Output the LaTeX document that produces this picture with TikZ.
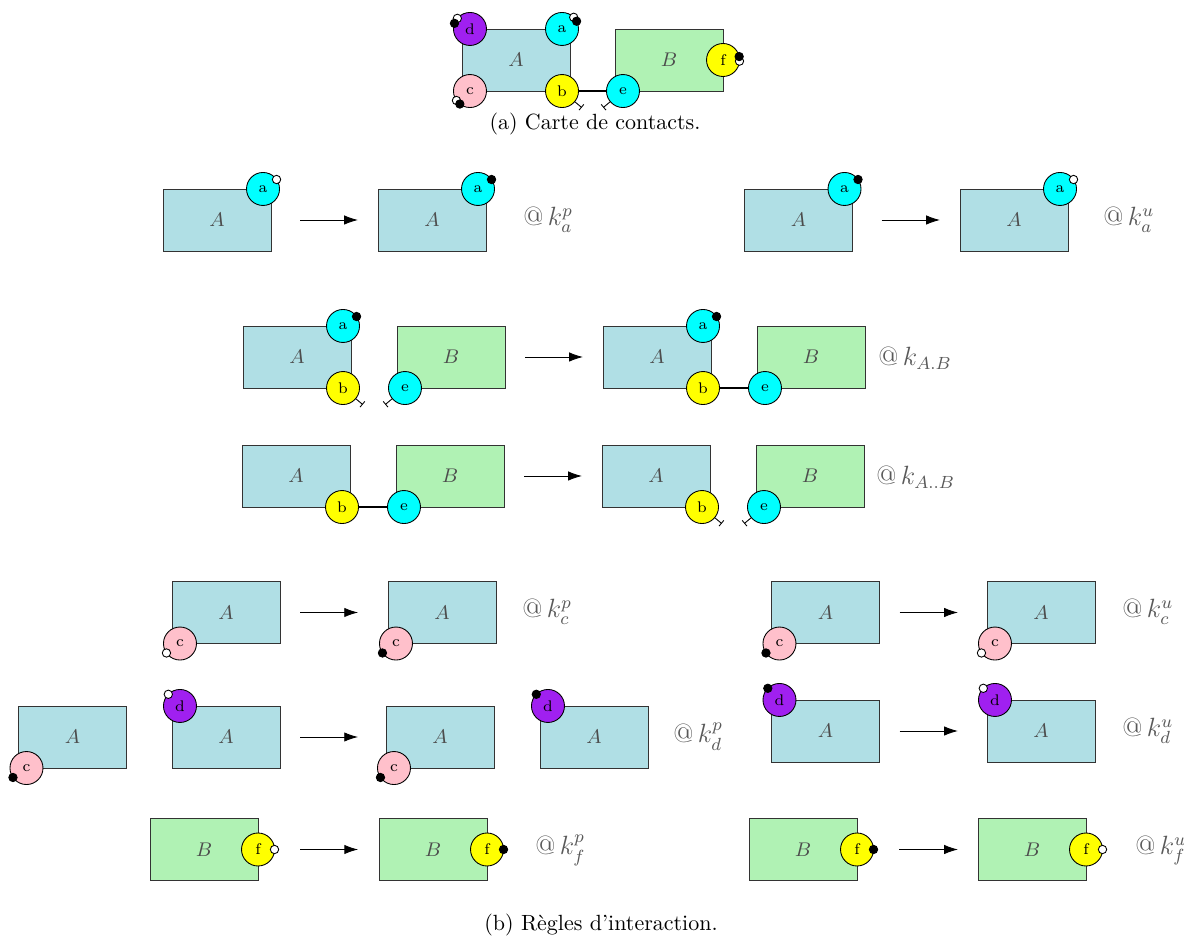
\documentclass[tikz,border=0pt]{standalone}
\usepackage{fontspec}
\usepackage{amsmath}
\usepackage{tikz}
\usetikzlibrary{calc,arrows.meta}
\definecolor{acol}{HTML}{B0DFE5}
\definecolor{bcol}{HTML}{B0F2B4}
\definecolor{cyanc}{HTML}{00FFFF}
\definecolor{yelc}{HTML}{FFFF00}
\definecolor{pinkc}{HTML}{FFC0CB}
\definecolor{purc}{HTML}{A020F0}
\tikzset{
  ar/.style={-{Latex[length=2.2mm,width=1.5mm]}},
  boxA/.style={draw=black!80,fill=acol,minimum width=49.1pt,minimum height=28.2pt,inner sep=0pt,outer sep=0pt,font=\small,text=black!70},
  boxB/.style={boxA,fill=bcol},
  st/.style={circle,draw,minimum size=15pt,inner sep=0pt,outer sep=0pt,font=\scriptsize},
  sa/.style={st,fill=cyanc}, sb/.style={st,fill=yelc}, sc/.style={st,fill=pinkc},
  sd/.style={st,fill=purc}, se/.style={st,fill=cyanc}, sf/.style={st,fill=yelc},
  fr/.style={circle,draw,fill=white,minimum size=3.8pt,inner sep=0pt,outer sep=0pt},
  bd/.style={fr,fill=black},
  bond/.style={thick},
  stub/.style={-{Bar[width=3.4pt]}},
  lbl/.style={font=\large,text=black!65,anchor=base west,inner sep=0pt}
}
\begin{document}
\begin{tikzpicture}[x=0.4545pt,y=-0.4545pt]
\useasboundingbox (0,0) rectangle (1184,944);
% contact map
\node[boxA] (A0) at (516,60) {$A$};
\node[boxB] (B0) at (669,60) {$B$};
\node[sd] (d0) at ($(A0.north west)+(8,0)$) {d};
\node[sa] (a0) at ($(A0.north east)+(-8,0)$) {a};
\node[sc] (c0) at ($(A0.south west)+(8,0)$) {c};
\node[sb] (b0) at ($(A0.south east)+(-8,0)$) {b};
\node[se] (e0) at ($(B0.south west)+(8,0)$) {e};
\node[sf] (f0) at (B0.east) {f};
\node[fr] (a0u) at (a0.45) {}; \node[bd] (a0p) at (a0.28) {};
\node[fr] (d0u) at (d0.140) {}; \node[bd] (d0p) at (d0.160) {};
\node[fr] (c0u) at (c0.215) {}; \node[bd] (c0p) at (c0.232) {};
\node[fr] (f0u) at (f0.-4) {}; \node[bd] (f0p) at (f0.12) {};
\draw[bond] (b0) -- (e0);
\draw[stub] (b0.-40) -- ++(-40:4.2pt);
\draw[stub] (e0.220) -- ++(220:4.2pt);
\node (capa) at (595,124) {(a)~Carte de contacts.};

% k_a^p , k_a^u
\node[boxA] (A1) at (217,220) {$A$};
\node[sa] (a1) at ($(A1.north east)+(-8,0)$) {a};
\node[fr] (a1s) at (a1.35) {};
\node[boxA] (A2) at (432,220) {$A$};
\node[sa] (a2) at ($(A2.north east)+(-8,0)$) {a};
\node[bd] (a2s) at (a2.35) {};
\draw[ar] ([xshift=13.2pt]A1.east) -- ([xshift=-9.1pt]A2.west);
\node[lbl] (k1) at (523,226) {@\,$k_a^p$};
\node[boxA] (A7) at (798.5,220) {$A$};
\node[sa] (a7) at ($(A7.north east)+(-8,0)$) {a};
\node[bd] (a7s) at (a7.35) {};
\node[boxA] (A8) at (1014,220) {$A$};
\node[sa] (a8) at ($(A8.north east)+(-8,0)$) {a};
\node[fr] (a8s) at (a8.35) {};
\draw[ar] ([xshift=13.2pt]A7.east) -- ([xshift=-9.1pt]A8.west);
\node[lbl] (k7) at (1103,226) {@\,$k_a^u$};

% k_{A.B}
\node[boxA] (A3) at (297,357) {$A$};
\node[boxB] (B3) at (451,357) {$B$};
\node[sa] (a3) at ($(A3.north east)+(-8,0)$) {a};
\node[sb] (b3) at ($(A3.south east)+(-8,0)$) {b};
\node[se] (e3) at ($(B3.south west)+(8,0)$) {e};
\node[bd] (a3s) at (a3.35) {};
\draw[stub] (b3.-40) -- ++(-40:4.2pt);
\draw[stub] (e3.220) -- ++(220:4.2pt);
\node[boxA] (A4) at (657,357) {$A$};
\node[boxB] (B4) at (811,357) {$B$};
\node[sa] (a4) at ($(A4.north east)+(-8,0)$) {a};
\node[sb] (b4) at ($(A4.south east)+(-8,0)$) {b};
\node[se] (e4) at ($(B4.south west)+(8,0)$) {e};
\node[bd] (a4s) at (a4.35) {};
\draw[bond] (b4) -- (e4);
\draw[ar] ([xshift=9.1pt]B3.east) -- ([xshift=-9.1pt]A4.west);
\node[lbl] (k3) at (878,366) {@\,$k_{A.B}$};

% k_{A..B}
\node[boxA] (A5) at (296,476) {$A$};
\node[boxB] (B5) at (450,476) {$B$};
\node[sb] (b5) at ($(A5.south east)+(-8,0)$) {b};
\node[se] (e5) at ($(B5.south west)+(8,0)$) {e};
\draw[bond] (b5) -- (e5);
\node[boxA] (A6) at (656,476) {$A$};
\node[boxB] (B6) at (810,476) {$B$};
\node[sb] (b6) at ($(A6.south east)+(-8,0)$) {b};
\node[se] (e6) at ($(B6.south west)+(8,0)$) {e};
\draw[stub] (b6.-40) -- ++(-40:4.2pt);
\draw[stub] (e6.220) -- ++(220:4.2pt);
\draw[ar] ([xshift=9.1pt]B5.east) -- ([xshift=-9.1pt]A6.west);
\node[lbl] (k5) at (876,485) {@\,$k_{A..B}$};

% k_c^p , k_c^u
\node[boxA] (A9) at (226,612.5) {$A$};
\node[sc] (c9) at ($(A9.south west)+(8,0)$) {c};
\node[fr] (c9s) at (c9.215) {};
\node[boxA] (A10) at (442,612.5) {$A$};
\node[sc] (c10) at ($(A10.south west)+(8,0)$) {c};
\node[bd] (c10s) at (c10.215) {};
\draw[ar] ([xshift=9.1pt]A9.east) -- ([xshift=-13.6pt]A10.west);
\node[lbl] (k9) at (522,618) {@\,$k_c^p$};
\node[boxA] (A11) at (825.5,612.5) {$A$};
\node[sc] (c11) at ($(A11.south west)+(8,0)$) {c};
\node[bd] (c11s) at (c11.215) {};
\node[boxA] (A12) at (1041,612.5) {$A$};
\node[sc] (c12) at ($(A12.south west)+(8,0)$) {c};
\node[fr] (c12s) at (c12.215) {};
\draw[ar] ([xshift=9.1pt]A11.east) -- ([xshift=-13.2pt]A12.west);
\node[lbl] (k11) at (1122,618) {@\,$k_c^u$};

% k_d^p , k_d^u
\node[boxA] (A13) at (72.5,737) {$A$};
\node[sc] (c13) at ($(A13.south west)+(8,0)$) {c};
\node[bd] (c13s) at (c13.215) {};
\node[boxA] (A14) at (226,737) {$A$};
\node[sd] (d14) at ($(A14.north west)+(8,0)$) {d};
\node[fr] (d14s) at (d14.135) {};
\node[boxA] (A15) at (440,737) {$A$};
\node[sc] (c15) at ($(A15.south west)+(8,0)$) {c};
\node[bd] (c15s) at (c15.215) {};
\node[boxA] (A16) at (594,737) {$A$};
\node[sd] (d16) at ($(A16.north west)+(8,0)$) {d};
\node[bd] (d16s) at (d16.135) {};
\draw[ar] ([xshift=9.1pt]A14.east) -- ([xshift=-12.7pt]A15.west);
\node[lbl] (k14) at (673,743) {@\,$k_d^p$};
\node[boxA] (A17) at (825.5,731) {$A$};
\node[sd] (d17) at ($(A17.north west)+(8,0)$) {d};
\node[bd] (d17s) at (d17.135) {};
\node[boxA] (A18) at (1041,731) {$A$};
\node[sd] (d18) at ($(A18.north west)+(8,0)$) {d};
\node[fr] (d18s) at (d18.135) {};
\draw[ar] ([xshift=9.1pt]A17.east) -- ([xshift=-13.2pt]A18.west);
\node[lbl] (k17) at (1122,737) {@\,$k_d^u$};

% k_f^p , k_f^u
\node[boxB] (B19) at (204,849.5) {$B$};
\node[sf] (f19) at (B19.east) {f};
\node[fr] (f19s) at (f19.0) {};
\node[boxB] (B20) at (433,849.5) {$B$};
\node[sf] (f20) at (B20.east) {f};
\node[bd] (f20s) at (f20.0) {};
\draw[ar] ([xshift=19.1pt]B19.east) -- ([xshift=-9.5pt]B20.west);
\node[lbl] (k19) at (535,855) {@\,$k_f^p$};
\node[boxB] (B21) at (803,849.5) {$B$};
\node[sf] (f21) at (B21.east) {f};
\node[bd] (f21s) at (f21.0) {};
\node[boxB] (B22) at (1032,849.5) {$B$};
\node[sf] (f22) at (B22.east) {f};
\node[fr] (f22s) at (f22.0) {};
\draw[ar] ([xshift=19.1pt]B21.east) -- ([xshift=-9.1pt]B22.west);
\node[lbl] (k21) at (1135,855) {@\,$k_f^u$};

\node (capb) at (601,925) {(b)~Règles d'interaction.};
\end{tikzpicture}
\end{document}
